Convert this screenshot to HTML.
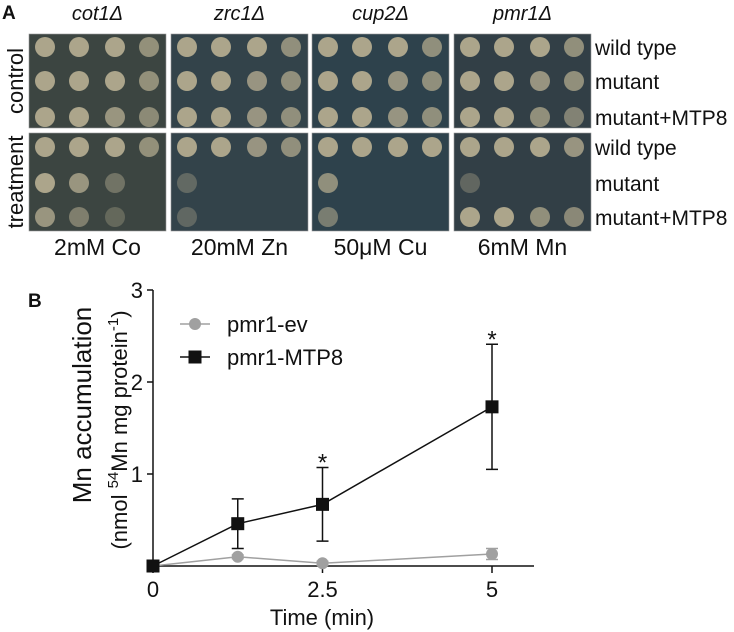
<!DOCTYPE html>
<html><head><meta charset="utf-8"><style>
body{margin:0;background:#fff;width:734px;height:632px;overflow:hidden;font-family:"Liberation Sans",sans-serif}
svg{display:block}
</style></head><body>
<svg width="734" height="632" viewBox="0 0 734 632">
<g id="panelA"></g>
<g id="panelB"></g>
</svg>
<script>
const NS="http://www.w3.org/2000/svg";
function mk(tag,attrs,parent,txt){const e=document.createElementNS(NS,tag);for(const k in attrs)e.setAttribute(k,attrs[k]);if(txt!==undefined)e.textContent=txt;parent.appendChild(e);return e;}
// ---------- Panel A data ----------
const strains=["cot1Δ","zrc1Δ","cup2Δ","pmr1Δ"];
const treatments=["2mM Co","20mM Zn","50μM Cu","6mM Mn"];
const rowLabels=["wild type","mutant","mutant+MTP8"];
const plateColors=["#3c4541","#33434a","#2e424c","#323f46"];
const controlGrowth=[[[1,1,1,.8],[1,1,1,.8],[1,1,.9,.7]],[[1,1,1,.8],[1,1,.9,.8],[1,1,.9,.8]],[[1,1,1,.8],[1,1,.9,.8],[1,1,.9,.8]],[[1,1,1,.8],[1,1,.9,.8],[1,1,.8,.6]]];
const treatGrowth=[[[1,1,1,.8],[1,.9,.3,0],[.9,.5,.1,0]],[[1,1,.9,.8],[.15,0,0,0],[.12,0,0,0]],[[1,1,1,1],[.8,0,0,0],[.5,0,0,0]],[[1,1,1,.9],[.15,0,0,0],[1,1,.8,.7]]];
const A=document.getElementById('panelA');
mk('text',{x:2,y:19,'font-size':19,'font-weight':'bold',fill:'#111',},A,'A');
const plateX=[29,171,312,454], plateW=137;
const blocks=[{y:34,h:94,g:controlGrowth,rows:[47,81,117]},{y:133,h:98,g:treatGrowth,rows:[147,183,217]}];
const spotDX=[16,50,86,120];
strains.forEach((s,i)=>{
  const t=mk('text',{x:plateX[i]+plateW/2,y:20,'font-size':20,'font-style':'italic','text-anchor':'middle',fill:'#111'},A,s);
  
  
  const b=mk('text',{x:plateX[i]+plateW/2,y:255,'font-size':23,'text-anchor':'middle',fill:'#111'},A,treatments[i]);
  
  
  blocks.forEach(bl=>{
    const p=mk('rect',{x:plateX[i],y:bl.y,width:plateW,height:bl.h,fill:plateColors[i],stroke:'#999','stroke-width':0.6},A);
    
    
    bl.g[i].forEach((row,r)=>{
      row.forEach((v,c)=>{
        if(v<=0)return;
        const sp=mk('circle',{cx:plateX[i]+spotDX[c],cy:bl.rows[r],r:10,fill:'#aca58b',opacity:v>=0.95?1:0.3+0.6*v},A);
        
        
      });
    });
  });
});
[[47,81,117],[147,183,217]].forEach(rs=>rs.forEach((y,r)=>{
  const l=mk('text',{x:595,y:y+8,'font-size':21,fill:'#111'},A,rowLabels[r]);
  
  
}));
const c1=mk('text',{x:0,y:0,'font-size':22,'text-anchor':'middle',fill:'#111',transform:'translate(23,81) rotate(-90)'},A,'control');


const c2=mk('text',{x:0,y:0,'font-size':22,'text-anchor':'middle',fill:'#111',transform:'translate(23,182) rotate(-90)'},A,'treatment');



// ---------- Panel B data ----------
const times=[0,1.25,2.5,5];
const evVals=[0,0.1,0.03,0.13];
const evErr=[0,0.02,0.02,0.06];
const mtpVals=[0,0.46,0.67,1.73];
const mtpErr=[0,0.27,0.4,0.68];
const sig=[false,false,true,true];
const xTicks=[0,2.5,5];
const yTicks=[1,2,3];
const B=document.getElementById('panelB');
const x0=153,xs=67.8,y0=566,ys=92;
const X=v=>x0+v*xs, Y=v=>y0-v*ys;
mk('text',{x:28,y:307,'font-size':19,'font-weight':'bold',fill:'#111',},B,'B');
const ya=mk('line',{x1:x0,y1:Y(0),x2:x0,y2:Y(3),stroke:'#111','stroke-width':1.5},B);


const xa=mk('line',{x1:x0,y1:y0,x2:534,y2:y0,stroke:'#111','stroke-width':1.5},B);


yTicks.forEach(t=>{
  mk('line',{x1:x0-6,y1:Y(t),x2:x0,y2:Y(t),stroke:'#111','stroke-width':1.5},B);
  const l=mk('text',{x:x0-10,y:Y(t)+8,'font-size':22,'text-anchor':'end',fill:'#111'},B,String(t));
  
  
});
xTicks.forEach(t=>{
  mk('line',{x1:X(t),y1:y0,x2:X(t),y2:y0+7,stroke:'#111','stroke-width':1.5},B);
  const l=mk('text',{x:X(t),y:y0+31,'font-size':22,'text-anchor':'middle',fill:'#111'},B,String(t));
  
  
});
const xt=mk('text',{x:322,y:625,'font-size':22,'text-anchor':'middle',fill:'#111'},B,'Time (min)');


const yt=mk('text',{'font-size':26,'text-anchor':'middle',fill:'#111',transform:'translate(91,405) rotate(-90)'},B,'Mn accumulation');


const yt2=mk('text',{'font-size':22,'text-anchor':'middle',fill:'#111',transform:'translate(127,430) rotate(-90)'},B);


mk('tspan',{},yt2,'(nmol ');
mk('tspan',{'font-size':15,dy:-9},yt2,'54');
mk('tspan',{dy:9},yt2,'Mn mg protein');
mk('tspan',{'font-size':15,dy:-9},yt2,'-1');
mk('tspan',{dy:9},yt2,')');
function series(vals,err,color,shape,name){
  const g=mk('g',{},B);
  
  
  mk('polyline',{points:times.map((t,i)=>X(t)+','+Y(vals[i])).join(' '),fill:'none',stroke:color,'stroke-width':1.5},g);
  times.forEach((t,i)=>{
    if(err[i]>0){
      const e=mk('path',{d:`M${X(t)},${Y(vals[i]-err[i])}V${Y(vals[i]+err[i])}M${X(t)-6},${Y(vals[i]+err[i])}h12M${X(t)-6},${Y(vals[i]-err[i])}h12`,stroke:color,'stroke-width':1.5,fill:'none'},g);
      
      
    }
    let m;
    if(shape==='c') m=mk('circle',{cx:X(t),cy:Y(vals[i]),r:6,fill:color},g);
    else m=mk('rect',{x:X(t)-6.5,y:Y(vals[i])-6.5,width:13,height:13,fill:color},g);
    
    
  });
}
series(evVals,evErr,'#a0a0a0','c','series-pmr1-ev');
series(mtpVals,mtpErr,'#111','s','series-pmr1-mtp8');
times.forEach((t,i)=>{
  if(!sig[i])return;
  const s=mk('text',{x:X(t),y:Y(mtpVals[i]+mtpErr[i])+3,'font-size':24,'text-anchor':'middle',fill:'#111'},B,'*');
  
  
});
// legend
const lg=mk('g',{},B);


mk('line',{x1:180,y1:324,x2:210,y2:324,stroke:'#a0a0a0','stroke-width':1.5},lg);
mk('circle',{cx:195,cy:324,r:6,fill:'#a0a0a0'},lg);
mk('text',{x:227,y:332,'font-size':22,fill:'#111'},lg,'pmr1-ev');
mk('line',{x1:180,y1:357,x2:210,y2:357,stroke:'#111','stroke-width':1.5},lg);
mk('rect',{x:188.5,y:350.5,width:13,height:13,fill:'#111'},lg);
mk('text',{x:227,y:365,'font-size':22,fill:'#111'},lg,'pmr1-MTP8');
</script>
</body></html>
